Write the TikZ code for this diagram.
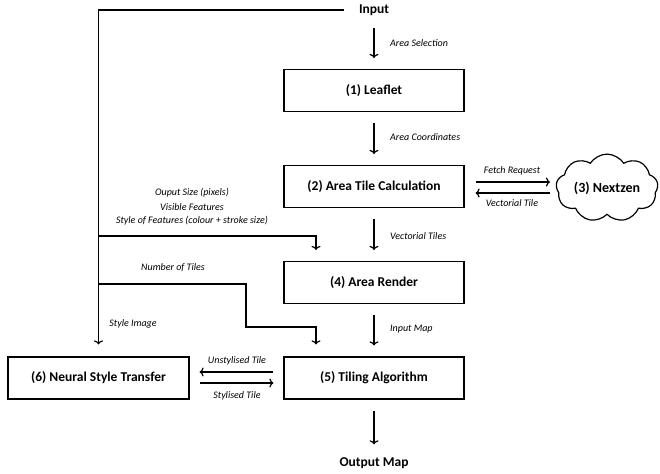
\documentclass[tikz,border=0pt]{standalone}
\usepackage{fontspec}
\setmainfont{Carlito}
\usetikzlibrary{shapes.symbols,arrows.meta,calc}
\begin{document}
\begin{tikzpicture}[x=1pt,y=-1pt,
  box/.style={draw,line width=1.2pt,minimum width=180pt,minimum height=42pt,inner sep=0pt,font=\bfseries\fontsize{13.5}{15}\selectfont},
  lbl/.style={font=\itshape\fontsize{10}{12}\selectfont,inner sep=1pt},
  ttl/.style={font=\bfseries\fontsize{13.5}{15}\selectfont,inner sep=1pt},
  conn/.style={line width=1.2pt},
  arr/.style={conn,-{To[length=4pt,width=9pt,line width=1.2pt]}},
  vgap/.style={arr,shorten <=11pt,shorten >=11pt}]
\useasboundingbox (0,0) rectangle (660,473);
\node[ttl] (input) at (374,10) {Input};
\node[box] (leaf) at (374,90.5) {(1) Leaflet};
\node[box] (area) at (374,186.5) {(2) Area Tile Calculation};
\node[box] (ren) at (374,282.5) {(4) Area Render};
\node[box] (til) at (374,378) {(5) Tiling Algorithm};
\node[box,minimum width=181pt] (nst) at (98.5,378) {(6) Neural Style Transfer};
\node[draw,cloud,cloud puffs=9,cloud puff arc=115,aspect=1.75,line width=1.2pt,minimum width=102pt,minimum height=58pt,inner sep=0pt,font=\bfseries\fontsize{14}{16}\selectfont] (cloud) at (607,188) {(3) Nextzen};
\node[ttl] (out) at (374,463) {Output Map};

\draw[vgap] (input) -- (leaf);
\draw[vgap] (leaf) -- (area);
\draw[vgap] (area) -- (ren);
\draw[vgap] (ren) -- (til);
\draw[vgap,shorten >=12pt] (til) -- (out);

\node[lbl,anchor=west] (l1) at (389,43) {Area Selection};
\node[lbl,anchor=west] (l2) at (389,137) {Area Coordinates};
\node[lbl,anchor=west] (l3) at (389,236) {Vectorial Tiles};
\node[lbl,anchor=west] (l4) at (389,329) {Input Map};

% Input branch lines
\coordinate (b1) at (98.5,236);
\coordinate (b2) at (98.5,284);
\coordinate (k1) at (246,284);
\coordinate (k2) at (246,327);
\draw[arr,shorten <=14pt,shorten >=12pt] (input.west) -| (nst.north);
\draw[arr,shorten >=11pt] (b1) -| ([xshift=-58pt]ren.north);
\draw[arr,shorten >=12pt] (b2) -- (k1) -- (k2) -| ([xshift=-58pt]til.north);

\node[lbl] (s1) at (192,193) {Ouput Size (pixels)};
\node[lbl] (s2) at (192,207) {Visible Features};
\node[lbl] (s3) at (192,221) {Style of Features (colour + stroke size)};
\node[lbl] (s4) at (173,268) {Number of Tiles};
\node[lbl] (s5) at (133,324) {Style Image};

% Nextzen exchange
\draw[arr] ([shift={(11,-4.5)}]area.east) -- (550,182);
\draw[arr] (550,193) -- ([shift={(11,6.5)}]area.east);
\node[lbl] (f1) at (512,171) {Fetch Request};
\node[lbl] (f2) at (512,203) {Vectorial Tile};

% Style transfer exchange
\draw[arr] ([shift={(-10,-6)}]til.west) -- ([shift={(10,-6)}]nst.east);
\draw[arr] ([shift={(10,5)}]nst.east) -- ([shift={(-10,5)}]til.west);
\node[lbl] (u1) at (237,361) {Unstylised Tile};
\node[lbl] (u2) at (237,396) {Stylised Tile};
\end{tikzpicture}
\end{document}
